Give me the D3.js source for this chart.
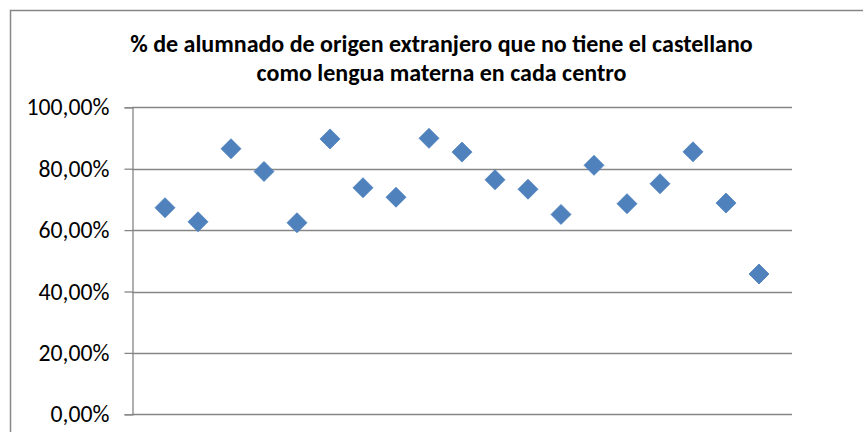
<!DOCTYPE html>
<html>
<head>
<meta charset="utf-8">
<script src="https://cdn.jsdelivr.net/npm/d3@7"></script>
<style>
  html, body { margin: 0; padding: 0; background: #fff; }
  svg { display: block; }
</style>
</head>
<body>
<svg id="chart" width="863" height="432"></svg>
<script>
const titleLines = [
  "% de alumnado de origen extranjero que no tiene el castellano",
  "como lengua materna en cada centro"
];
const centros = [1,2,3,4,5,6,7,8,9,10,11,12,13,14,15,16,17,18,19];
const valores = [0.673,0.627,0.865,0.791,0.624,0.897,0.738,0.707,0.899,0.854,0.764,0.733,0.651,0.811,0.686,0.751,0.855,0.688,0.457];
const yTicks = [0,0.2,0.4,0.6,0.8,1.0];

(function(){
const svg = d3.select("#chart");
const FONT = "Carlito, Lato, 'Open Sans', sans-serif";

// outer chart frame (extends beyond window)
svg.append("rect").attr("x",10.5).attr("y",10.5).attr("width",900).attr("height",500)
  .attr("fill","none").attr("stroke","#878787").attr("stroke-width",1.5);

const pLeft = 132, pRight = 792, pTop = 107.3, pBottom = 414.3;
const x = d3.scaleLinear().domain([0,20]).range([pLeft,pRight]);
const y = d3.scaleLinear().domain([0,1]).range([pBottom,pTop]);

function fit(sel, target){
  sel.each(function(){
    const fs = parseFloat(this.getAttribute("font-size"));
    const w = this.getComputedTextLength();
    if (w > 0) this.setAttribute("font-size", (fs*target/w).toFixed(2));
  });
}

// gridlines
svg.append("g").selectAll("line").data(yTicks).join("line")
  .attr("x1",pLeft).attr("x2",pRight)
  .attr("y1",d=>Math.round(y(d))+0.5).attr("y2",d=>Math.round(y(d))+0.5)
  .attr("stroke","#868686").attr("stroke-width",1.3);

// y axis
const fmt = d => d3.format(".2f")(d*100).replace(".",",") + "%";
const yAxis = d3.axisLeft(y).tickValues(yTicks).tickSize(8).tickPadding(15).tickFormat(fmt);
const gy = svg.append("g").attr("transform",`translate(${pLeft+0.5},0)`).call(yAxis);
gy.select(".domain").attr("stroke","#868686").attr("stroke-width",1.3);
gy.selectAll(".tick line").attr("stroke","#868686").attr("stroke-width",1.3);
gy.selectAll(".tick text").attr("font-family",FONT).attr("font-size",24).attr("fill","#000")
  .attr("dy","0.32em");
const topLabel = gy.selectAll(".tick").filter(d=>d===1).select("text");
fit(topLabel, 83);
gy.selectAll(".tick text").attr("font-size",topLabel.attr("font-size"));

// title
const tg = svg.append("g");
tg.selectAll("text").data(titleLines).join("text")
  .attr("x",441.5).attr("y",(d,i)=>[52,81][i])
  .attr("text-anchor","middle").attr("font-family",FONT).attr("font-weight","bold")
  .attr("font-size",19).attr("fill","#000").text(d=>d);
fit(tg.select("text"), 623);
tg.selectAll("text").attr("font-size", tg.select("text").attr("font-size"));

// points (diamonds)
svg.append("g").selectAll("path").data(centros).join("path")
  .attr("transform",(d,i)=>`translate(${x(d)},${y(valores[i])}) rotate(45)`)
  .attr("d", d3.symbol().type(d3.symbolSquare).size(200))
  .attr("fill","#4F81BD").attr("stroke","#4A7EBB").attr("stroke-width",0.75);
})();
</script>
</body>
</html>
